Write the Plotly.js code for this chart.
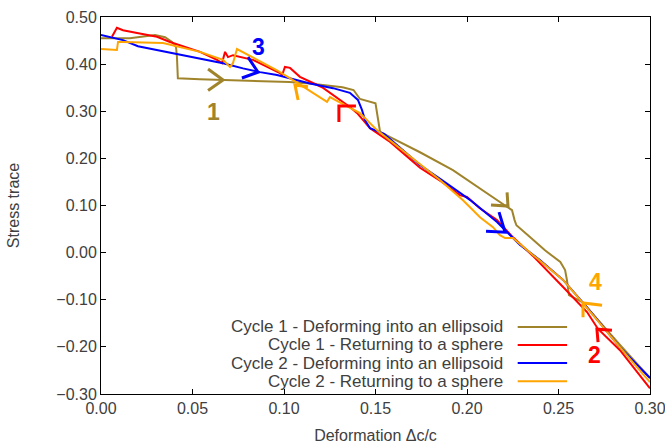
<!DOCTYPE html>
<html>
<head>
<meta charset="utf-8">
<script src="https://cdn.plot.ly/plotly-3.0.1.min.js"></script>
<style>html,body{margin:0;padding:0;background:#fff;}#chart{width:665px;height:448px;}</style>
</head>
<body>
<div id="chart"></div>
<script>
// Cycle 1 - Deforming into an ellipsoid
var c1DefX = [0.000,0.0158,0.0295,0.035,0.0388,0.041,0.0415,0.042,0.054,0.0705,0.087,0.103,0.114,0.132,0.138,0.140,0.1415,0.150,0.151,0.1525,0.158,0.1743,0.1923,0.2126,0.222,0.2246,0.226,0.227,0.2344,0.2426,0.251,0.2536,0.2546,0.2557,0.263,0.2727,0.2836,0.300];
var c1DefY = [0.455,0.455,0.462,0.457,0.447,0.436,0.415,0.370,0.368,0.366,0.364,0.362,0.359,0.351,0.345,0.334,0.326,0.317,0.296,0.256,0.245,0.213,0.175,0.122,0.097,0.090,0.069,0.058,0.033,0.005,-0.020,-0.037,-0.058,-0.090,-0.105,-0.148,-0.196,-0.266];
// Cycle 1 - Returning to a sphere
var c1RetX = [0.300,0.2836,0.2716,0.2656,0.2525,0.236,0.225,0.2164,0.207,0.2031,0.200,0.196,0.1863,0.1743,0.158,0.147,0.140,0.136,0.1268,0.1208,0.1087,0.1033,0.1005,0.099,0.0978,0.0907,0.083,0.0721,0.0694,0.0678,0.0661,0.0634,0.0541,0.0377,0.0306,0.0197,0.012,0.0087,0.0071,0.006];
var c1RetY = [-0.288,-0.207,-0.162,-0.126,-0.073,-0.007,0.033,0.069,0.094,0.107,0.118,0.122,0.150,0.180,0.235,0.264,0.296,0.309,0.334,0.351,0.373,0.392,0.394,0.377,0.381,0.394,0.409,0.419,0.415,0.426,0.402,0.409,0.426,0.447,0.458,0.466,0.472,0.477,0.466,0.458];
// Cycle 2 - Deforming into an ellipsoid
var c2DefX = [0.000,0.012,0.0202,0.0306,0.0486,0.0667,0.0776,0.0869,0.0962,0.1033,0.1142,0.1268,0.136,0.1404,0.1426,0.1443,0.147,0.1547,0.1743,0.1863,0.2016,0.2164,0.229,0.240,0.2525,0.2656,0.2836,0.300];
var c2DefY = [0.462,0.451,0.438,0.430,0.415,0.402,0.391,0.383,0.377,0.370,0.359,0.349,0.339,0.324,0.303,0.281,0.264,0.252,0.186,0.154,0.112,0.065,0.016,-0.016,-0.058,-0.116,-0.201,-0.266];
// Cycle 2 - Returning to a sphere
var c2RetX = [0.300,0.2836,0.2634,0.2525,0.2383,0.236,0.2251,0.2208,0.218,0.2142,0.2071,0.1978,0.1852,0.1634,0.1508,0.1415,0.1251,0.1235,0.118,0.1087,0.1049,0.0962,0.0852,0.0776,0.0743,0.0721,0.0705,0.0667,0.0541,0.0339,0.0213,0.012,0.0093,0.0087,0.000];
var c2RetY = [-0.275,-0.201,-0.107,-0.058,-0.012,-0.005,0.031,0.031,0.037,0.054,0.075,0.111,0.154,0.222,0.260,0.296,0.330,0.320,0.334,0.356,0.366,0.387,0.409,0.424,0.432,0.402,0.394,0.409,0.426,0.445,0.447,0.447,0.447,0.430,0.432];

var seriesNames = ['Cycle 1 - Deforming into an ellipsoid','Cycle 1 - Returning to a sphere','Cycle 2 - Deforming into an ellipsoid','Cycle 2 - Returning to a sphere'];
var seriesColors = ['#a0842c','#ff0000','#0000ff','#ffa500'];

// direction chevrons: [armAx, armAy, tipX, tipY, armBx, armBy, seriesIndex]
var arrowMarks = [
  [0.0585,0.3896, 0.0667,0.3662, 0.0585,0.3439, 0],
  [0.0803,0.415, 0.0858,0.383, 0.077,0.3705, 2],
  [0.2175,0.086, 0.2208,0.0435, 0.2104,0.0456, 2],
  [0.2219,0.128, 0.2224,0.0987, 0.2131,0.1008, 0],
  [0.130,0.277, 0.130,0.311, 0.1393,0.311, 1],
  [0.1077,0.324, 0.106,0.3556, 0.1131,0.352, 3],
  [0.2716,-0.190, 0.271,-0.1624, 0.2792,-0.1645, 1],
  [0.2634,-0.137, 0.2634,-0.107, 0.2738,-0.1115, 3]
];
// cycle number labels: [x, y, text, seriesIndex]
var numberLabels = [
  [0.0612,0.298,'1',0],
  [0.0858,0.436,'3',2],
  [0.270,-0.0626,'4',3],
  [0.2694,-0.2176,'2',1]
];

var xs = [c1DefX,c1RetX,c2DefX,c2RetX];
var ys = [c1DefY,c1RetY,c2DefY,c2RetY];
var traces = [];
for (var i=0;i<4;i++){
  traces.push({x:xs[i],y:ys[i],type:'scatter',mode:'lines',name:seriesNames[i],
    line:{color:seriesColors[i],width:2},showlegend:false,hoverinfo:'skip'});
}
var shapes = [];
arrowMarks.forEach(function(a){
  shapes.push({type:'path',xref:'x',yref:'y',
    path:'M '+a[0]+' '+a[1]+' L '+a[2]+' '+a[3]+' L '+a[4]+' '+a[5],
    line:{color:seriesColors[a[6]],width:3}});
});
var annotations = [];
numberLabels.forEach(function(n){
  annotations.push({x:n[0],y:n[1],xref:'x',yref:'y',text:'<b>'+n[2]+'</b>',showarrow:false,
    font:{family:'Liberation Sans, Arial, sans-serif',size:23,color:seriesColors[n[3]]}});
});
var legY = [0.178,0.130,0.082,0.034];
for (var k=0;k<4;k++){
  annotations.push({x:0.736,y:legY[k],xref:'paper',yref:'paper',xanchor:'right',yanchor:'middle',
    text:seriesNames[k],showarrow:false,font:{family:'Liberation Sans, Arial, sans-serif',size:17,color:'#404040'}});
  shapes.push({type:'line',xref:'paper',yref:'paper',x0:0.759,x1:0.849,y0:legY[k],y1:legY[k],
    line:{color:seriesColors[k],width:2}});
}

var layout = {
  width:665,height:448,
  margin:{l:101,r:15,t:17,b:54},
  paper_bgcolor:'#fff',plot_bgcolor:'#fff',
  font:{family:'Liberation Sans, Arial, sans-serif',size:16,color:'#404040'},
  xaxis:{range:[0,0.30],dtick:0.05,tick0:0,tickformat:'.2f',ticks:'inside',ticklen:5,tickcolor:'#000',
    showline:true,linecolor:'#000',linewidth:1,mirror:'ticks',showgrid:false,zeroline:false,
    ticklabeloverflow:'allow',
    title:{text:'Deformation Δc/c',font:{size:16,color:'#404040'},standoff:13},
    tickfont:{size:16,color:'#404040'}},
  yaxis:{range:[-0.30,0.50],dtick:0.1,tick0:0,tickformat:'.2f',ticks:'inside',ticklen:5,tickcolor:'#000',
    showline:true,linecolor:'#000',linewidth:1,mirror:'ticks',showgrid:false,zeroline:false,
    title:{text:'Stress trace',font:{size:16,color:'#404040'},standoff:32},
    tickfont:{size:16,color:'#404040'}},
  shapes:shapes,annotations:annotations,showlegend:false
};
Plotly.newPlot('chart',traces,layout,{displayModeBar:false,staticPlot:true});
</script>
</body>
</html>
